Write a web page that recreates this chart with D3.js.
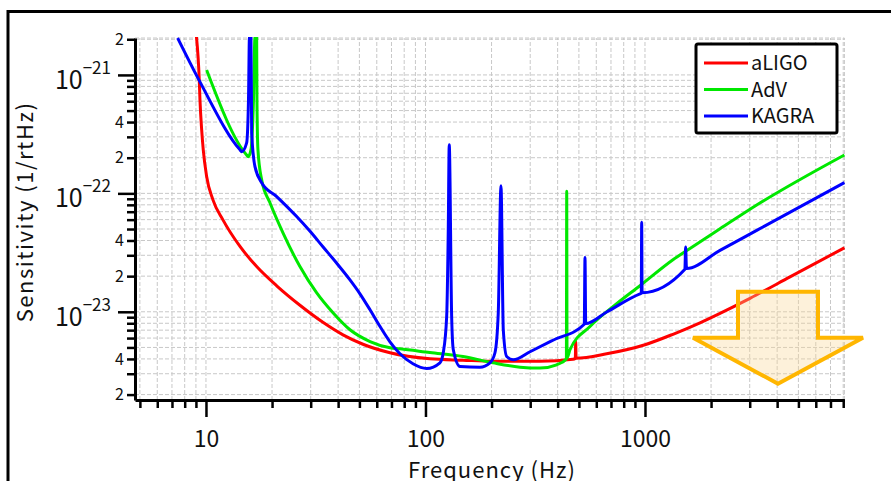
<!DOCTYPE html>
<html>
<head>
<meta charset="utf-8">
<script src="https://cdn.jsdelivr.net/npm/d3@7"></script>
<style>
  body { margin: 0; background: #fff; }
  svg { display: block; font-family: "Noto Sans CJK JP", "Noto Sans", sans-serif; }
</style>
</head>
<body>
<div id="chart"></div>
<script>
// data: [frequency Hz, sensitivity 1/rtHz]
var aligo = [
  [9.05, 2.1e-21], [9.32, 9.1e-22], [9.39, 6.15e-22], [9.56, 3.43e-22], [9.72, 2.33e-22],
  [10.07, 1.39e-22], [10.76, 8.81e-23], [11.95, 5.97e-23], [14.29, 3.56e-23], [17.02, 2.41e-23],
  [21.0, 1.657e-23], [26.8, 1.135e-23], [34.1, 8.15e-24], [42.1, 6.39e-24], [51.9, 5.32e-24],
  [68.9, 4.51e-24], [104.8, 4.01e-24], [148.2, 3.90e-24], [203, 3.82e-24], [332, 3.82e-24],
  [470, 3.97e-24], [481.5, 4.03e-24], [483.5, 5.6e-24], [485.5, 4.06e-24], [669, 4.42e-24],
  [1000, 5.27e-24], [1341, 6.46e-24], [1781, 8.08e-24], [2197, 9.71e-24], [3009, 1.30e-23],
  [4578, 1.97e-23], [8100, 3.47e-23]
];
var adv = [
  [10.07, 1.10e-21], [15.32, 2.11e-22], [15.58, 2.04e-22], [16.03, 2.33e-22], [16.46, 6.15e-22],
  [16.72, 2.1e-21], [17.02, 2.1e-21], [17.07, 6.15e-22], [17.25, 2.33e-22], [17.94, 1.30e-22],
  [19.57, 8.32e-23], [22.43, 4.64e-23], [26.8, 2.41e-23], [31.9, 1.45e-23], [37.9, 9.81e-24],
  [45.3, 7.05e-24], [55.9, 5.61e-24], [68.9, 4.97e-24], [76.5, 4.87e-24], [104.8, 4.53e-24],
  [148.2, 4.19e-24], [203, 3.71e-24], [269.5, 3.41e-24], [332.4, 3.35e-24], [396, 3.57e-24],
  [438.5, 4.0e-24], [440, 1.04e-22], [441.5, 4.1e-24], [455.3, 4.78e-24], [561.6, 7.51e-24],
  [743, 1.17e-23], [949, 1.66e-23], [1341, 2.75e-23], [1603, 3.43e-23], [2197, 5.02e-23],
  [3228, 7.97e-23], [8100, 2.11e-22]
];
var kagra = [
  [7.43, 2.05e-21], [9.39, 8.73e-22], [14.29, 2.33e-22], [14.54, 2.25e-22], [15.32, 2.67e-22],
  [15.62, 6.15e-22], [15.78, 2.1e-21], [16.03, 2.1e-21], [16.15, 3.24e-22], [16.72, 1.68e-22],
  [17.94, 1.23e-22], [21.0, 9.40e-23], [25.9, 6.37e-23], [29.8, 4.78e-23], [34.1, 3.54e-23],
  [39.1, 2.62e-23], [45.3, 1.86e-23], [50.3, 1.419e-23], [55.9, 1.04e-23], [62.0, 7.54e-24],
  [68.9, 5.58e-24], [76.5, 4.42e-24], [87.7, 3.64e-24], [101.3, 3.32e-24], [116.4, 3.71e-24],
  [120.5, 4.51e-24], [124.9, 9.13e-24], [127.0, 4.92e-23], [128.3, 2.57e-22], [131.6, 9.13e-24],
  [133.9, 4.78e-24], [143.6, 3.45e-24], [177.1, 3.41e-24], [196.7, 3.71e-24], [207.3, 4.51e-24],
  [214.6, 9.81e-24], [220.8, 1.16e-22], [226.2, 7.05e-24], [234.4, 4.19e-24], [251.2, 3.93e-24],
  [299.4, 4.60e-24], [380.9, 5.75e-24], [529, 7.84e-24], [533, 2.87e-23], [537, 7.95e-24],
  [669, 9.96e-24], [949, 1.416e-23], [962, 1.43e-23], [966, 5.71e-23], [970, 1.45e-23],
  [1520, 2.29e-23], [1532, 3.52e-23], [1545, 2.32e-23], [2197, 3.304e-23], [3228, 4.87e-23],
  [8100, 1.233e-22]
];

var seriesNames = ["aLIGO", "AdV", "KAGRA"];
var seriesColors = ["#ff0000", "#00e800", "#0000ff"];
var seriesData = [aligo, adv, kagra];

// axis values
var xMajor = [10, 100, 1000];
var xMinorMult = [2, 3, 4, 5, 6, 7, 8, 9];
var xDecades = [1, 10, 100, 1000];
var yMajor = [1e-23, 1e-22, 1e-21];
var yMajorExp = ["\u221223", "\u221222", "\u221221"];
var yDecades = [1e-24, 1e-23, 1e-22, 1e-21];
var yMinorMult = [2, 3, 4, 5, 6, 7, 8, 9];
var yLabelMult = [2, 4];

// arrow annotation, in data units
var arrowPts = [
  [2653, 1.476e-23], [6140, 1.476e-23], [6140, 6.04e-24], [9840, 6.04e-24],
  [4035, 2.47e-24], [1655, 6.04e-24], [2653, 6.04e-24]
];

var W = 891, H = 481;
var svg = d3.select("#chart").append("svg")
  .attr("width", W)
  .attr("height", H);

// outer frame
svg.append("rect")
  .attr("x", 8).attr("y", 11.5)
  .attr("width", 900).attr("height", 500)
  .attr("fill", "none")
  .attr("stroke", "#000")
  .attr("stroke-width", 3);

var x = d3.scaleLog().domain([4.75, 8100]).range([135, 844.4]);
var y = d3.scaleLog().domain([1.8e-24, 2.05e-21]).range([400, 38]);

var xMinor = [];
xDecades.forEach(function(d) {
  xMinorMult.forEach(function(m) {
    var v = d * m;
    if (v >= 4.75 && v <= 8100) xMinor.push(v);
  });
});
var yMinor = [];
yDecades.forEach(function(d) {
  yMinorMult.forEach(function(m) {
    var v = d * m;
    if (v >= 1.8e-24 && v <= 2.05e-21) yMinor.push(v);
  });
});

// grid
var grid = svg.append("g")
  .attr("stroke", "#c8c8c8")
  .attr("stroke-width", 1)
  .attr("stroke-dasharray", "4,2");

grid.selectAll(".gx")
  .data(xMinor.concat(xMajor))
  .enter().append("line")
  .attr("x1", d => x(d)).attr("x2", d => x(d))
  .attr("y1", y.range()[0]).attr("y2", y.range()[1]);
grid.selectAll(".gy")
  .data(yMinor.concat(yMajor))
  .enter().append("line")
  .attr("y1", d => y(d)).attr("y2", d => y(d))
  .attr("x1", x.range()[0]).attr("x2", x.range()[1]);
grid.append("line")
  .attr("x1", x.range()[0]).attr("x2", x.range()[1])
  .attr("y1", y.range()[1]).attr("y2", y.range()[1]);
grid.append("line")
  .attr("x1", x.range()[1]).attr("x2", x.range()[1])
  .attr("y1", y.range()[0]).attr("y2", y.range()[1]);

// curves
svg.append("clipPath").attr("id", "plotclip")
  .append("rect")
  .attr("x", x.range()[0]).attr("y", y.range()[1] - 1)
  .attr("width", x.range()[1] - x.range()[0] + 2)
  .attr("height", y.range()[0] - y.range()[1] + 1);

var line = d3.line()
  .x(d => x(d[0]))
  .y(d => y(d[1]))
  .curve(d3.curveMonotoneX);

svg.append("g").attr("clip-path", "url(#plotclip)")
  .selectAll("path")
  .data(seriesData)
  .enter().append("path")
  .attr("d", line)
  .attr("fill", "none")
  .attr("stroke", (d, i) => seriesColors[i])
  .attr("stroke-width", 3)
  .attr("stroke-linejoin", "round");

// arrow
svg.append("polygon")
  .attr("points", arrowPts.map(p => x(p[0]) + "," + y(p[1])).join(" "))
  .attr("fill", "rgba(250, 215, 150, 0.35)")
  .attr("stroke", "#ffb600")
  .attr("stroke-width", 4)
  .attr("stroke-linejoin", "miter");

// axes
function styleAxis(g) {
  g.selectAll("path.domain").attr("stroke", "#000").attr("stroke-width", 3);
  g.selectAll(".tick line").attr("stroke", "#000").attr("stroke-width", 2.5);
  g.selectAll("text").attr("fill", "#111").style("font-family", "'Noto Sans CJK JP', 'Noto Sans', sans-serif");
}

svg.append("g")
  .attr("transform", "translate(0," + y.range()[0] + ")")
  .call(d3.axisBottom(x).tickValues(xMinor).tickSize(8).tickSizeOuter(0).tickFormat(""))
  .call(styleAxis);

svg.append("g")
  .attr("transform", "translate(0," + y.range()[0] + ")")
  .call(d3.axisBottom(x).tickValues(xMajor).tickSize(17).tickSizeOuter(0).tickPadding(14)
    .tickFormat(d3.format("d")))
  .call(styleAxis)
  .call(g => g.selectAll("text").style("font-size", "23px"))
  .call(g => g.select("path.domain").remove());

svg.append("g")
  .attr("transform", "translate(" + x.range()[0] + ",0)")
  .call(d3.axisLeft(y).tickValues(yMinor).tickSize(8).tickSizeOuter(0).tickPadding(3)
    .tickFormat(function(d) {
      var m = Math.round(d / Math.pow(10, Math.floor(Math.log10(d) + 1e-9)));
      return yLabelMult.indexOf(m) >= 0 ? String(m) : "";
    }))
  .call(styleAxis)
  .call(g => g.selectAll("text").style("font-size", "16px"));

var yMaj = svg.append("g")
  .attr("transform", "translate(" + x.range()[0] + ",0)")
  .call(d3.axisLeft(y).tickValues(yMajor).tickSize(17).tickSizeOuter(0).tickFormat(""))
  .call(styleAxis);
yMaj.select("path.domain").remove();

var majLab = svg.append("g").selectAll("text")
  .data(yMajor)
  .enter().append("text")
  .attr("x", x.range()[0] - 24)
  .attr("y", d => y(d) + 14)
  .attr("text-anchor", "end")
  .attr("fill", "#111");
majLab.append("tspan").style("font-size", "25px").text("10");
majLab.append("tspan").style("font-size", "17px").attr("dy", -15).text((d, i) => yMajorExp[i]);

// axis titles
svg.append("text")
  .attr("transform", "translate(33,212) rotate(-90)")
  .attr("text-anchor", "middle")
  .style("font-size", "22px")
  .style("letter-spacing", "1.5px")
  .attr("fill", "#111")
  .text("Sensitivity (1/rtHz)");

svg.append("text")
  .attr("x", 492)
  .attr("y", 478)
  .attr("text-anchor", "middle")
  .style("font-size", "22px")
  .style("letter-spacing", "1px")
  .attr("fill", "#111")
  .text("Frequency (Hz)");

// legend
var lg = svg.append("g").attr("transform", "translate(696,44)");
lg.append("rect")
  .attr("width", 141).attr("height", 89)
  .attr("rx", 2)
  .attr("fill", "#fff")
  .attr("stroke", "#000")
  .attr("stroke-width", 3);
var items = lg.selectAll(".item")
  .data(seriesNames)
  .enter().append("g")
  .attr("transform", (d, i) => "translate(0," + (19 + i * 26.5) + ")");
items.append("line")
  .attr("x1", 8).attr("x2", 52)
  .attr("stroke", (d, i) => seriesColors[i])
  .attr("stroke-width", 3);
items.append("text")
  .attr("x", 55)
  .attr("dy", "0.36em")
  .style("font-size", "20px")
  .attr("fill", "#111")
  .text(d => d);
</script>
</body>
</html>
